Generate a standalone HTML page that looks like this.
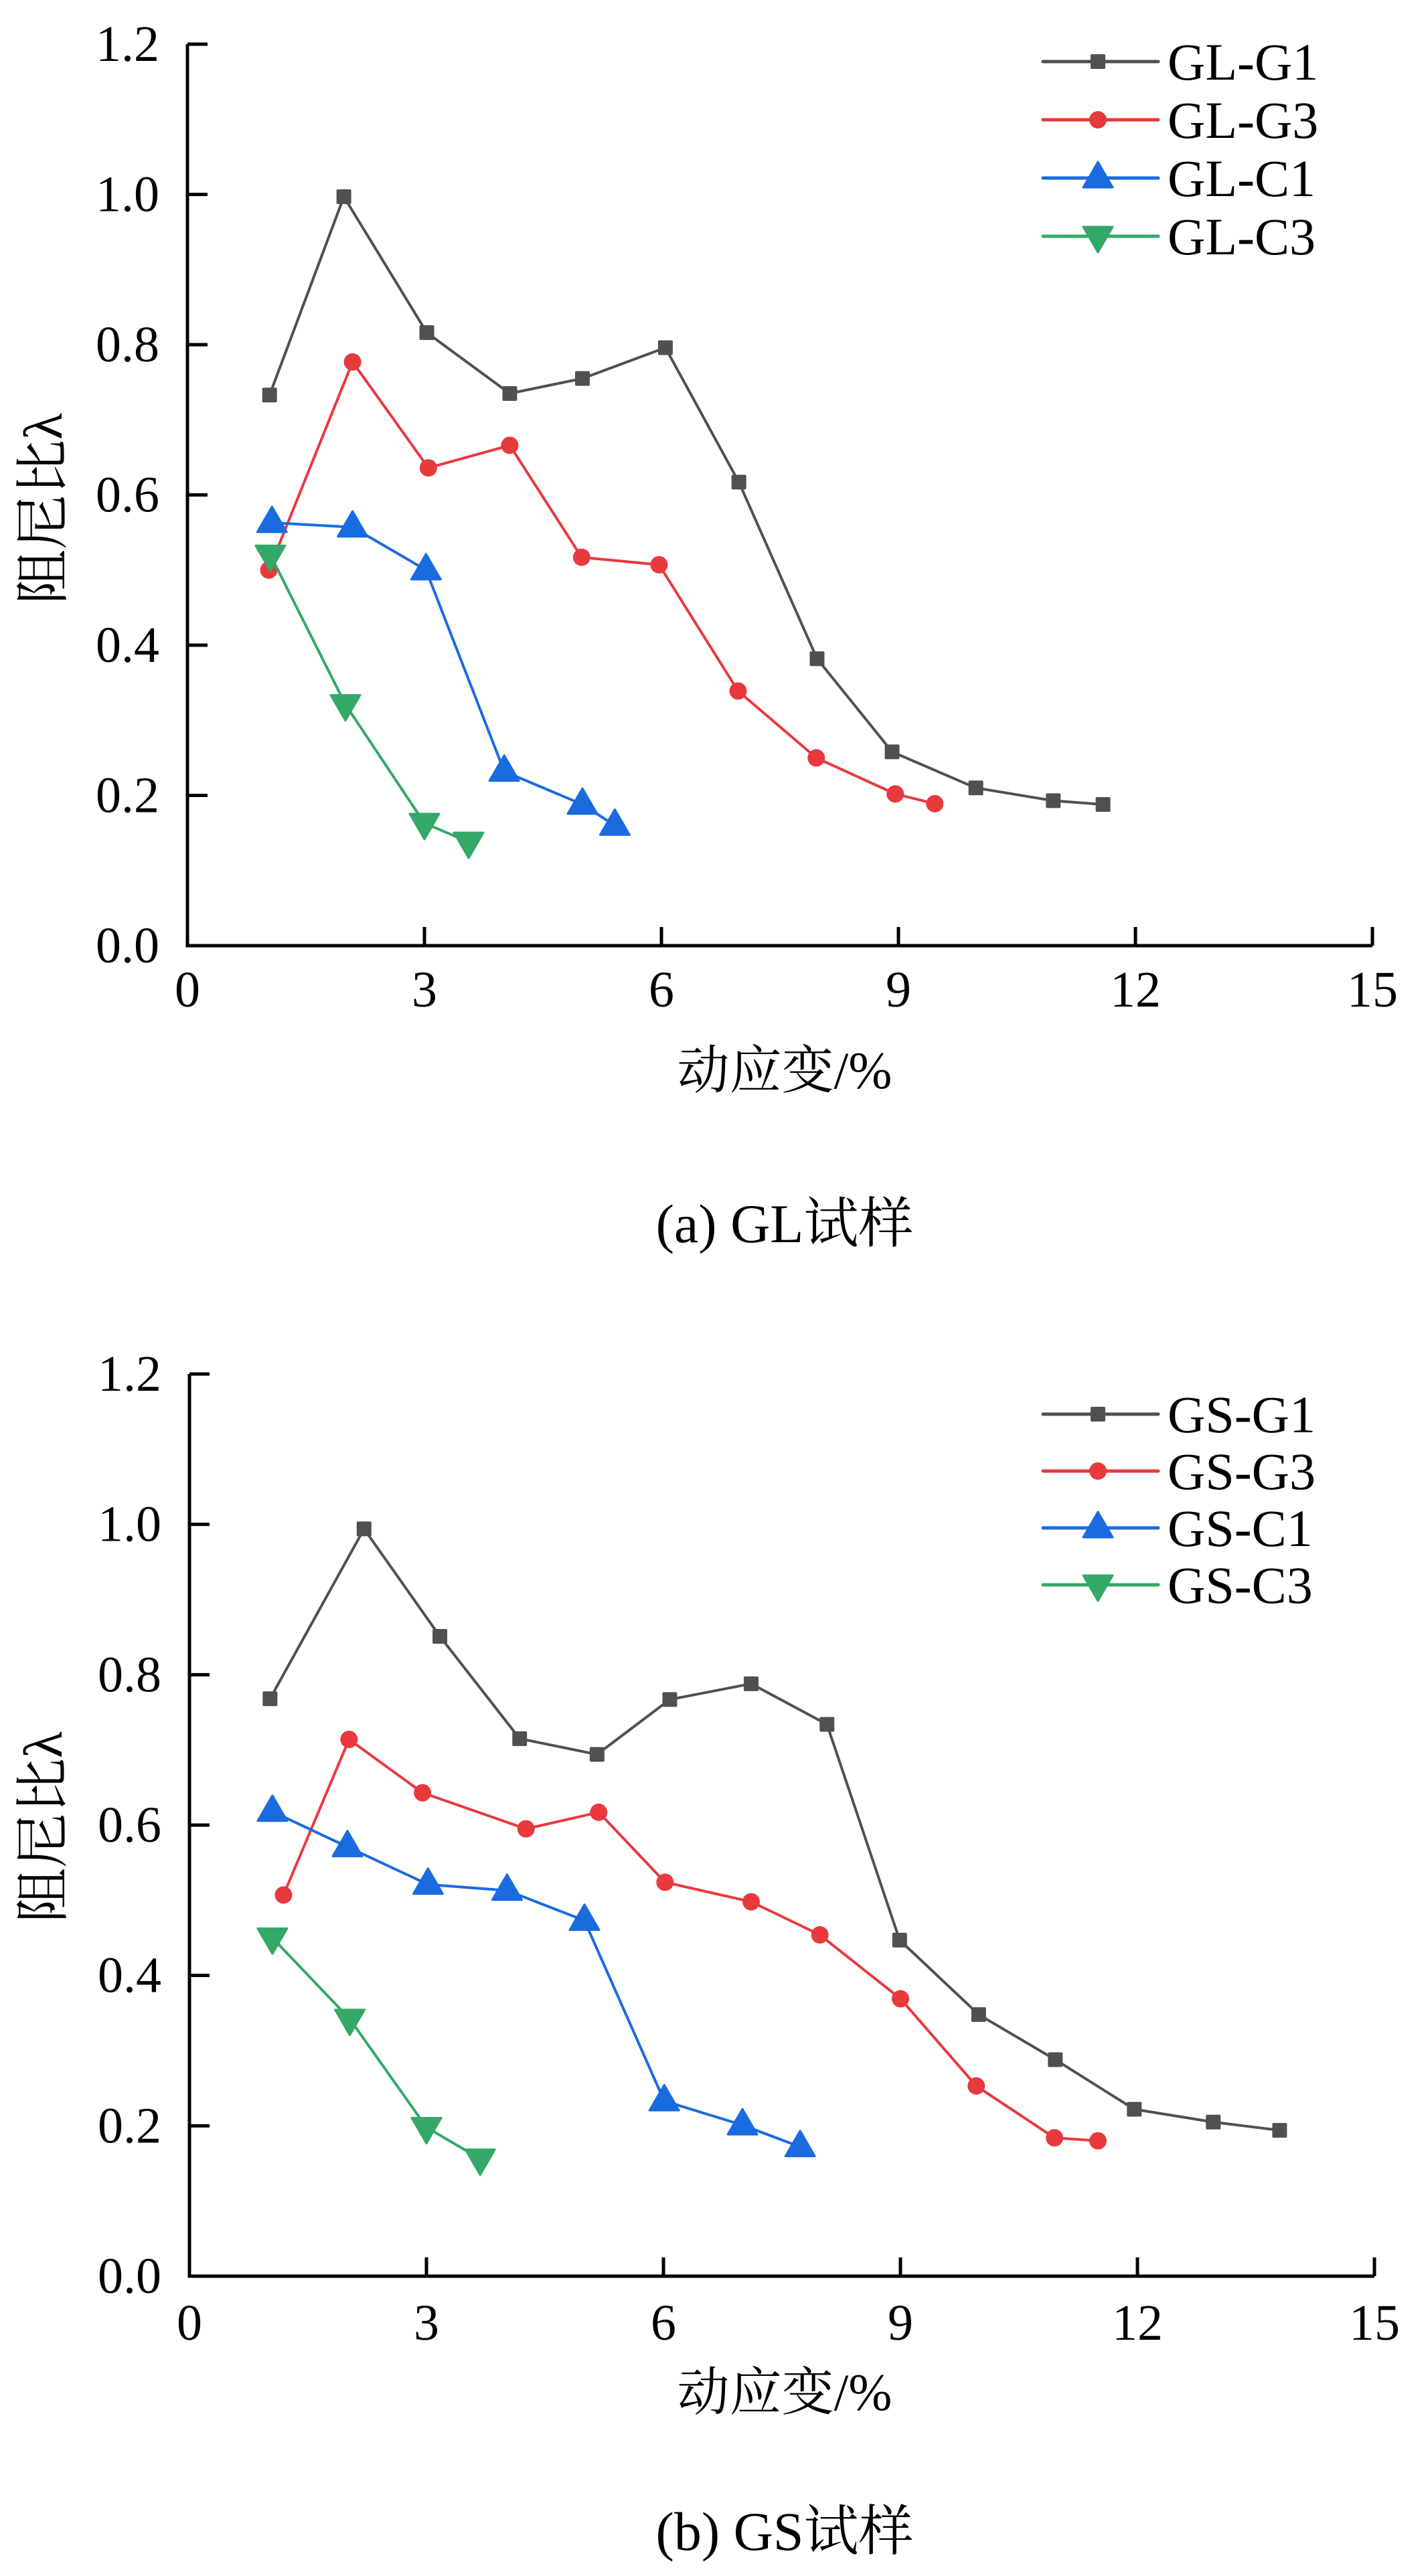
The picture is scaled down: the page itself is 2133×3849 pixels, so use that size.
<!DOCTYPE html>
<html><head><meta charset="utf-8">
<style>
html,body{margin:0;padding:0;background:#fff;}
svg{display:block;}
text{font-family:"Liberation Serif","Noto Serif CJK SC","Noto Sans CJK SC",serif;fill:#000;}
.cjk{font-family:"Liberation Serif","Noto Serif CJK SC",serif;}
</style></head>
<body>
<svg id="s" xmlns="http://www.w3.org/2000/svg" width="2133" height="3849" viewBox="0 0 2133 3849">
<rect width="2133" height="3849" fill="#fff"/>
</svg>
<script>
const NS="http://www.w3.org/2000/svg";
const svg=document.getElementById('s');
function el(t,a,txt){const e=document.createElementNS(NS,t);for(const k in a)e.setAttribute(k,a[k]);if(txt!==undefined)e.textContent=txt;svg.appendChild(e);return e;}
const COL={G1:'#505050',G3:'#e8393d',C1:'#1a6be0',C3:'#34a866'};
function marker(type,x,y,c){
 if(type==='G1')el('rect',{x:x-11,y:y-11,width:22,height:22,rx:2,fill:c});
 else if(type==='G3')el('circle',{cx:x,cy:y,r:13,fill:c});
 else if(type==='C1')el('polygon',{points:`${x},${y-24} ${x-22},${y+14} ${x+22},${y+14}`,fill:c,stroke:c,'stroke-width':3,'stroke-linejoin':'round'});
 else el('polygon',{points:`${x},${y+24} ${x-22},${y-14} ${x+22},${y-14}`,fill:c,stroke:c,'stroke-width':3,'stroke-linejoin':'round'});
}
function chart(o){
 const X=v=>o.x0+v*(o.x15-o.x0)/15, Y=v=>o.y0-v*(o.y0-o.y12)/1.2;
 el('path',{d:`M${o.x0},${o.y12} V${o.y0} H${o.x15}`,fill:'none',stroke:'#000','stroke-width':5});
 for(let i=0;i<=6;i++){const v=i*0.2,y=Y(v);
  el('line',{x1:o.x0,y1:y,x2:o.x0+30,y2:y,stroke:'#000','stroke-width':5});
  el('text',{x:o.x0-42,y:y+25,'text-anchor':'end','font-size':76},v.toFixed(1));}
 for(let i=0;i<=5;i++){const v=i*3,x=X(v);
  el('line',{x1:x,y1:o.y0,x2:x,y2:o.y0-28,stroke:'#000','stroke-width':5});
  el('text',{x:x,y:o.tickY+26,'text-anchor':'middle','font-size':76},String(v));}
 el('text',{class:'cjk',x:1172,y:o.xtY+27,'text-anchor':'middle','font-size':78},'动应变/%');
 el('text',{class:'cjk',x:0,y:0,'text-anchor':'middle','font-size':82,transform:`translate(92,${o.ylY}) rotate(-90)`},'阻尼比λ');
 el('text',{class:'cjk',x:1172,y:o.capY+28,'text-anchor':'middle','font-size':82},o.cap);
 for(const k of ['G1','G3','C1','C3']){
  const pts=o.data[k].map(p=>[X(p[0]),Y(p[1])]);
  el('polyline',{points:pts.map(p=>p.join(',')).join(' '),fill:'none',stroke:COL[k],'stroke-width':4,'stroke-linejoin':'round'});
  pts.forEach(p=>marker(k,p[0],p[1],COL[k]));
 }
 ['G1','G3','C1','C3'].forEach((k,i)=>{const y=o.legY+i*o.legD;
  el('line',{x1:1558,y1:y,x2:1730,y2:y,stroke:COL[k],'stroke-width':5,'stroke-linecap':'round'});
  marker(k,1640,y,COL[k]);
  el('text',{x:1744,y:y+27,'font-size':78},o.pre+'-'+k);
 });
}
chart({x0:280,x15:2050,y0:1413,y12:66,tickY:1478,xtY:1599,ylY:760,capY:1828,cap:'(a) GL试样',pre:'GL',legY:92,legD:87,
 data:{
 G1:[[1.04,0.733],[1.98,0.997],[3.03,0.816],[4.08,0.735],[5.0,0.755],[6.05,0.796],[6.98,0.617],[7.97,0.382],[8.92,0.258],[9.98,0.21],[10.96,0.193],[11.59,0.188]],
 G3:[[1.03,0.5],[2.09,0.777],[3.05,0.636],[4.08,0.666],[4.99,0.517],[5.97,0.507],[6.97,0.339],[7.96,0.25],[8.96,0.202],[9.46,0.189]],
 C1:[[1.07,0.563],[2.09,0.557],[3.02,0.5],[4.01,0.232],[5.0,0.188],[5.41,0.16]],
 C3:[[1.05,0.52],[2.0,0.321],[3.0,0.163],[3.56,0.138]]}});
chart({x0:283,x15:2053,y0:3401,y12:2053,tickY:3470,xtY:3574,ylY:2730,capY:3782,cap:'(b) GS试样',pre:'GS',legY:2113,legD:85,
 data:{
 G1:[[1.02,0.768],[2.21,0.994],[3.17,0.851],[4.18,0.715],[5.16,0.694],[6.08,0.767],[7.11,0.788],[8.07,0.734],[8.99,0.447],[9.99,0.348],[10.96,0.288],[11.96,0.222],[12.96,0.205],[13.8,0.194]],
 G3:[[1.19,0.507],[2.02,0.714],[2.95,0.643],[4.26,0.595],[5.18,0.617],[6.02,0.524],[7.11,0.498],[7.98,0.454],[9.0,0.369],[9.96,0.253],[10.95,0.184],[11.5,0.18]],
 C1:[[1.05,0.618],[2.0,0.571],[3.02,0.521],[4.02,0.513],[5.0,0.473],[6.01,0.233],[7.0,0.201],[7.73,0.172]],
 C3:[[1.05,0.45],[2.03,0.342],[3.0,0.198],[3.68,0.156]]}});
</script>
</body></html>
